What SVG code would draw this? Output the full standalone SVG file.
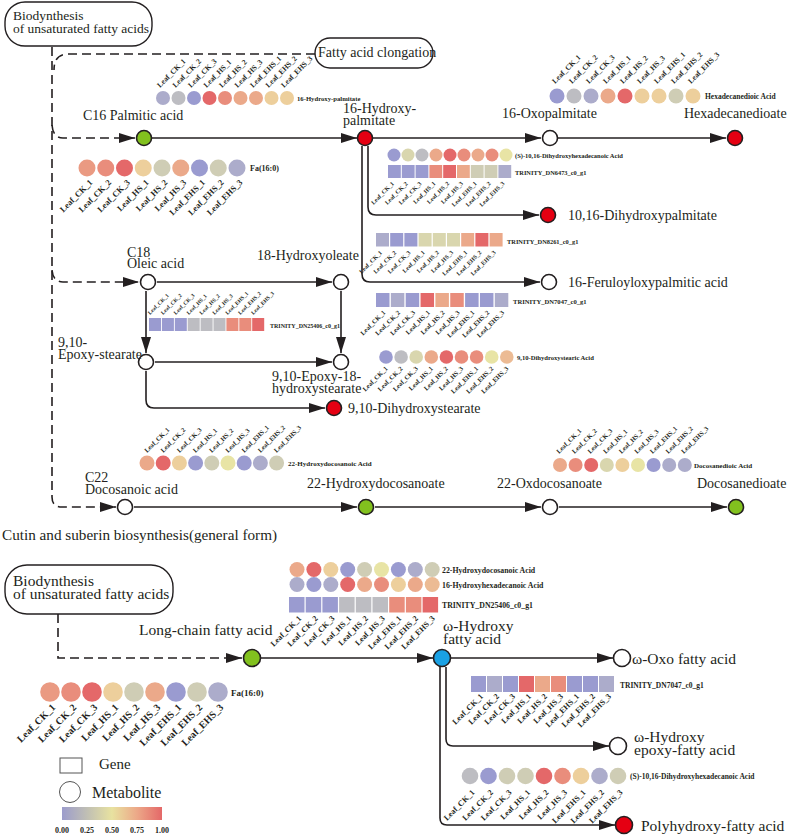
<svg xmlns="http://www.w3.org/2000/svg" width="788" height="837" viewBox="0 0 788 837">
<defs>
<style>
.ln{fill:none;stroke:#231f20;stroke-width:1.6}
.ar{marker-end:url(#ah)}
.ds{fill:none;stroke:#231f20;stroke-width:1.6;stroke-dasharray:9 5}
.nd{stroke:#231f20;stroke-width:1.6}
.wh{fill:#fff}
.gr{fill:#82c11e}
.rd{fill:#e50012}
.bl{fill:#1aa1e4}
.t{font-family:"Liberation Serif","Times New Roman",serif;font-size:14px;fill:#231f20}
.tb{font-size:15.5px}
.sl{font-family:"Liberation Serif","Times New Roman",serif;font-weight:bold;fill:#231f20}
.en{text-anchor:end}
.box{fill:#fff;stroke:#231f20;stroke-width:1.4}
.b1{fill:#9a9bd0}.b2{fill:#acaccb}.g{fill:#bdbdc2}.gy{fill:#cfcdb5}.yg{fill:#d9d6ae}
.y{fill:#e8e4a5}.yo{fill:#edcf9c}.oy{fill:#ecbb94}.o{fill:#eba98a}.so{fill:#ea9a82}.s{fill:#e98d7c}.r{fill:#e46869}
</style>
<marker id="ah" markerUnits="userSpaceOnUse" markerWidth="16" markerHeight="10" refX="16" refY="5" orient="auto" viewBox="0 0 16 10"><path d="M0,0 L16,5 L0,10 z" fill="#231f20"/></marker>
<linearGradient id="lg" x1="0" y1="0" x2="1" y2="0">
<stop offset="0" stop-color="#9c9ccc"/><stop offset="0.25" stop-color="#c0bfb4"/><stop offset="0.5" stop-color="#e8e2a0"/><stop offset="0.75" stop-color="#eca888"/><stop offset="1" stop-color="#e46868"/>
</linearGradient>
</defs>
<rect width="788" height="837" fill="#fff"/>

<g id="connectors">
<path class="ds" d="M52,47 V497 Q52,507 62,507 H116" marker-end="url(#ah)"/>
<path class="ds" d="M52,125 Q53,138 63,138 H135" marker-end="url(#ah)"/>
<path class="ds" d="M52,270 Q53,282 63,282 H139" marker-end="url(#ah)"/>
<path class="ds" d="M315,54 H68 Q54,54 54,70"/>
<path class="ln ar" d="M152,138 H357"/>
<path class="ln ar" d="M373,138 H541"/>
<path class="ln ar" d="M558,138 H726"/>
<path class="ln ar" d="M368,146 V207 Q368,215 376,215 H539"/>
<path class="ln ar" d="M362,146 V274 Q362,282 370,282 H540"/>
<path class="ln ar" d="M157,282 H332"/>
<path class="ln ar" d="M146,291 V353"/>
<path class="ln ar" d="M341,291 V353"/>
<path class="ln ar" d="M155,362 H332"/>
<path class="ln ar" d="M146,371 V400 Q146,408 154,408 H325"/>
<path class="ln ar" d="M134,507 H357"/>
<path class="ln ar" d="M375,507 H541"/>
<path class="ln ar" d="M559,507 H727"/>
<path class="ds" d="M58,614 V658 H242" marker-end="url(#ah)"/>
<path class="ln ar" d="M261,658 H433"/>
<path class="ln ar" d="M451,658 H613"/>
<path class="ln ar" d="M446,667 V739 Q446,746 453,746 H609"/>
<path class="ln ar" d="M440,667 V818 Q440,825 447,825 H615"/>
</g>

<g id="box-unsat-top"><rect class="box" x="5" y="2" width="147" height="44" rx="20"/>
<text class="t" x="13" y="20" style="font-size:13.5px">Biodynthesis</text><text class="t" x="13" y="32.5" style="font-size:13.5px">of unsaturated fatty acids</text></g>
<g id="box-elong"><rect class="box" x="315" y="38" width="118" height="30" rx="15"/>
<text class="t" x="318" y="57">Fatty acid clongation</text></g>

<g id="n-c16"><circle class="nd gr" cx="144" cy="138" r="7.5"/><text class="t" x="83" y="120">C16 Palmitic acid</text></g>
<g id="n-16hp"><circle class="nd rd" cx="365" cy="138" r="7.5"/><text class="t" x="343" y="113">16-Hydroxy-</text><text class="t" x="343" y="125">palmitate</text></g>
<g id="n-16oxo"><circle class="nd wh" cx="550" cy="138" r="7.5"/><text class="t" x="502" y="118">16-Oxopalmitate</text></g>
<g id="n-hexd"><circle class="nd rd" cx="735" cy="138" r="7.5"/><text class="t" x="684" y="118">Hexadecanedioate</text></g>
<g id="n-1016"><circle class="nd rd" cx="548" cy="215" r="7.5"/><text class="t" x="568" y="220">10,16-Dihydroxypalmitate</text></g>
<g id="n-16fer"><circle class="nd wh" cx="549" cy="282" r="7.5"/><text class="t" x="568" y="287">16-Feruloyloxypalmitic acid</text></g>
<g id="n-c18"><circle class="nd wh" cx="148" cy="282" r="7.5"/><text class="t" x="127" y="256.5">C18</text><text class="t" x="127" y="268">Oleic acid</text></g>
<g id="n-18ho"><circle class="nd wh" cx="341" cy="282" r="7.5"/><text class="t" x="257" y="260">18-Hydroxyoleate</text></g>
<g id="n-epox"><circle class="nd wh" cx="146" cy="362" r="7.5"/><text class="t" x="58" y="347">9,10-</text><text class="t" x="58" y="359">Epoxy-stearate</text></g>
<g id="n-epox18"><circle class="nd wh" cx="341" cy="362" r="7.5"/><text class="t" x="272" y="381">9,10-Epoxy-18-</text><text class="t" x="272" y="393">hydroxystearate</text></g>
<g id="n-910dh"><circle class="nd rd" cx="334" cy="408" r="7.5"/><text class="t" x="348" y="413">9,10-Dihydroxystearate</text></g>
<g id="n-c22"><circle class="nd wh" cx="125" cy="507" r="7.5"/><text class="t" x="85" y="482">C22</text><text class="t" x="85" y="494">Docosanoic acid</text></g>
<g id="n-22hd"><circle class="nd gr" cx="366" cy="507" r="7.5"/><text class="t" x="307" y="488">22-Hydroxydocosanoate</text></g>
<g id="n-22oxo"><circle class="nd wh" cx="550" cy="507" r="7.5"/><text class="t" x="497" y="488">22-Oxdocosanoate</text></g>
<g id="n-docd"><circle class="nd gr" cx="736" cy="507" r="7.5"/><text class="t" x="697" y="488">Docosanedioate</text></g>

<text class="t" x="2" y="540" style="font-size:15.2px">Cutin and suberin biosynthesis(general form)</text>

<g id="box-unsat-bottom"><rect class="box" x="5" y="565" width="168" height="49" rx="22"/>
<text class="t tb" x="13" y="585.5">Biodynthesis</text><text class="t tb" x="13" y="599">of unsaturated fatty acids</text></g>
<g id="n-lcfa"><circle class="nd gr" cx="252" cy="658" r="8.5"/><text class="t tb" x="139" y="635">Long-chain fatty acid</text></g>
<g id="n-ohfa"><circle class="nd bl" cx="442" cy="658" r="8.5"/><text class="t tb" x="443" y="630.5">ω-Hydroxy</text><text class="t tb" x="443" y="643.5">fatty acid</text></g>
<g id="n-oxofa"><circle class="nd wh" cx="622" cy="658" r="8.5"/><text class="t tb" x="632" y="664">ω-Oxo fatty acid</text></g>
<g id="n-ohepfa"><circle class="nd wh" cx="618" cy="746" r="8.5"/><text class="t tb" x="634" y="741.5">ω-Hydroxy</text><text class="t tb" x="634" y="755">epoxy-fatty acid</text></g>
<g id="n-polyfa"><circle class="nd rd" cx="624" cy="825" r="8.5"/><text class="t tb" x="641" y="831">Polyhydroxy-fatty acid</text></g>

<g id="hm-16-hydroxy-palmitate">
<circle class="b2" cx="163" cy="98" r="7"/><circle class="g" cx="178.5" cy="98" r="7"/><circle class="b1" cx="194" cy="98" r="7"/><circle class="r" cx="209.5" cy="98" r="7"/><circle class="s" cx="225" cy="98" r="7"/><circle class="o" cx="240.5" cy="98" r="7"/><circle class="o" cx="256" cy="98" r="7"/><circle class="yo" cx="271.5" cy="98" r="7"/><circle class="yo" cx="287" cy="98" r="7"/>
<text class="sl" x="297" y="101" font-size="6.7">16-Hydroxy-palmitate</text>
<g class="sl" font-size="7.5">
<text transform="translate(160,88) rotate(-45)">Leaf_CK_1</text><text transform="translate(175.5,88) rotate(-45)">Leaf_CK_2</text><text transform="translate(191,88) rotate(-45)">Leaf_CK_3</text><text transform="translate(206.5,88) rotate(-45)">Leaf_HS_1</text><text transform="translate(222,88) rotate(-45)">Leaf_HS_2</text><text transform="translate(237.5,88) rotate(-45)">Leaf_HS_3</text><text transform="translate(253,88) rotate(-45)">Leaf_EHS_1</text><text transform="translate(268.5,88) rotate(-45)">Leaf_EHS_2</text><text transform="translate(284,88) rotate(-45)">Leaf_EHS_3</text>
</g></g>

<g id="hm-hexadecanedioic">
<circle class="b1" cx="557" cy="96" r="7.5"/><circle class="g" cx="574" cy="96" r="7.5"/><circle class="b2" cx="591" cy="96" r="7.5"/><circle class="o" cx="608" cy="96" r="7.5"/><circle class="r" cx="625" cy="96" r="7.5"/><circle class="yo" cx="642" cy="96" r="7.5"/><circle class="yo" cx="659" cy="96" r="7.5"/><circle class="gy" cx="676" cy="96" r="7.5"/><circle class="yo" cx="693" cy="96" r="7.5"/>
<text class="sl" x="705" y="99" font-size="7.5">Hexadecanedioic Acid</text>
<g class="sl" font-size="7.5">
<text transform="translate(555,84) rotate(-45)">Leaf_CK_1</text><text transform="translate(572,84) rotate(-45)">Leaf_CK_2</text><text transform="translate(589,84) rotate(-45)">Leaf_CK_3</text><text transform="translate(606,84) rotate(-45)">Leaf_HS_1</text><text transform="translate(623,84) rotate(-45)">Leaf_HS_2</text><text transform="translate(640,84) rotate(-45)">Leaf_HS_3</text><text transform="translate(657,84) rotate(-45)">Leaf_EHS_1</text><text transform="translate(674,84) rotate(-45)">Leaf_EHS_2</text><text transform="translate(691,84) rotate(-45)">Leaf_EHS_3</text>
</g></g>

<g id="hm-fa160-top">
<circle class="so" cx="87" cy="168" r="8.5"/><circle class="s" cx="105.75" cy="168" r="8.5"/><circle class="r" cx="124.5" cy="168" r="8.5"/><circle class="yo" cx="143.25" cy="168" r="8.5"/><circle class="gy" cx="162" cy="168" r="8.5"/><circle class="o" cx="180.75" cy="168" r="8.5"/><circle class="b1" cx="199.5" cy="168" r="8.5"/><circle class="gy" cx="218.25" cy="168" r="8.5"/><circle class="b2" cx="237" cy="168" r="8.5"/>
<text class="sl" x="250" y="171" font-size="8">Fa(16:0)</text>
<g class="sl en" font-size="8.5">
<text transform="translate(93,183) rotate(-45)">Leaf_CK_1</text><text transform="translate(111.75,183) rotate(-45)">Leaf_CK_2</text><text transform="translate(130.5,183) rotate(-45)">Leaf_CK_3</text><text transform="translate(149.25,183) rotate(-45)">Leaf_HS_1</text><text transform="translate(168,183) rotate(-45)">Leaf_HS_2</text><text transform="translate(186.75,183) rotate(-45)">Leaf_HS_3</text><text transform="translate(205.5,183) rotate(-45)">Leaf_EHS_1</text><text transform="translate(224.25,183) rotate(-45)">Leaf_EHS_2</text><text transform="translate(243,183) rotate(-45)">Leaf_EHS_3</text>
</g></g>

<g id="hm-s1016-top">
<circle class="b1" cx="394" cy="155" r="6.5"/><circle class="yg" cx="408" cy="155" r="6.5"/><circle class="g" cx="422" cy="155" r="6.5"/><circle class="o" cx="436" cy="155" r="6.5"/><circle class="r" cx="450" cy="155" r="6.5"/><circle class="s" cx="464" cy="155" r="6.5"/><circle class="o" cx="478" cy="155" r="6.5"/><circle class="s" cx="492" cy="155" r="6.5"/><circle class="y" cx="506" cy="155" r="6.5"/>
<text class="sl" x="515" y="157.5" font-size="6.5">(S)-10,16-Dihydroxyhexadecanoic Acid</text>
</g>

<g id="hm-dn6473">
<rect class="b1" x="388" y="165" width="12.8" height="13"/><rect class="b1" x="401.8" y="165" width="12.8" height="13"/><rect class="b1" x="415.6" y="165" width="12.8" height="13"/><rect class="s" x="429.4" y="165" width="12.8" height="13"/><rect class="r" x="443.2" y="165" width="12.8" height="13"/><rect class="o" x="457" y="165" width="12.8" height="13"/><rect class="gy" x="470.8" y="165" width="12.8" height="13"/><rect class="gy" x="484.6" y="165" width="12.8" height="13"/><rect class="b2" x="498.4" y="165" width="12.8" height="13"/>
<text class="sl" x="515" y="174.5" font-size="6.4">TRINITY_DN6473_c0_g1</text>
<g class="sl en" font-size="6">
<text transform="translate(394.4,184) rotate(-45)">Leaf_CK_1</text><text transform="translate(408.2,184) rotate(-45)">Leaf_CK_2</text><text transform="translate(422,184) rotate(-45)">Leaf_CK_3</text><text transform="translate(435.8,184) rotate(-45)">Leaf_HS_1</text><text transform="translate(449.6,184) rotate(-45)">Leaf_HS_2</text><text transform="translate(463.4,184) rotate(-45)">Leaf_HS_3</text><text transform="translate(477.2,184) rotate(-45)">Leaf_EHS_1</text><text transform="translate(491,184) rotate(-45)">Leaf_EHS_2</text><text transform="translate(504.8,184) rotate(-45)">Leaf_EHS_3</text>
</g></g>

<g id="hm-dn8261">
<rect class="b2" x="376" y="233" width="13" height="13.5"/><rect class="b1" x="390.2" y="233" width="13" height="13.5"/><rect class="b1" x="404.4" y="233" width="13" height="13.5"/><rect class="yg" x="418.6" y="233" width="13" height="13.5"/><rect class="yg" x="432.8" y="233" width="13" height="13.5"/><rect class="yg" x="447" y="233" width="13" height="13.5"/><rect class="o" x="461.2" y="233" width="13" height="13.5"/><rect class="r" x="475.4" y="233" width="13" height="13.5"/><rect class="o" x="489.6" y="233" width="13" height="13.5"/>
<text class="sl" x="507" y="243.5" font-size="6.4">TRINITY_DN8261_c0_g1</text>
<g class="sl en" font-size="6">
<text transform="translate(382.5,253) rotate(-45)">Leaf_CK_1</text><text transform="translate(396.7,253) rotate(-45)">Leaf_CK_2</text><text transform="translate(410.9,253) rotate(-45)">Leaf_CK_3</text><text transform="translate(425.1,253) rotate(-45)">Leaf_HS_1</text><text transform="translate(439.3,253) rotate(-45)">Leaf_HS_2</text><text transform="translate(453.5,253) rotate(-45)">Leaf_HS_3</text><text transform="translate(467.7,253) rotate(-45)">Leaf_EHS_1</text><text transform="translate(481.9,253) rotate(-45)">Leaf_EHS_2</text><text transform="translate(496.1,253) rotate(-45)">Leaf_EHS_3</text>
</g></g>

<g id="hm-dn7047-top">
<rect class="b1" x="376" y="293" width="13.5" height="14"/><rect class="b2" x="390.85" y="293" width="13.5" height="14"/><rect class="b1" x="405.7" y="293" width="13.5" height="14"/><rect class="r" x="420.55" y="293" width="13.5" height="14"/><rect class="o" x="435.4" y="293" width="13.5" height="14"/><rect class="s" x="450.25" y="293" width="13.5" height="14"/><rect class="b1" x="465.1" y="293" width="13.5" height="14"/><rect class="b1" x="479.95" y="293" width="13.5" height="14"/><rect class="b2" x="494.8" y="293" width="13.5" height="14"/>
<text class="sl" x="513" y="303.5" font-size="6.6">TRINITY_DN7047_c0_g1</text>
<g class="sl en" font-size="6.5">
<text transform="translate(385.75,313) rotate(-45)">Leaf_CK_1</text><text transform="translate(400.6,313) rotate(-45)">Leaf_CK_2</text><text transform="translate(415.45,313) rotate(-45)">Leaf_CK_3</text><text transform="translate(430.3,313) rotate(-45)">Leaf_HS_1</text><text transform="translate(445.15,313) rotate(-45)">Leaf_HS_2</text><text transform="translate(460,313) rotate(-45)">Leaf_HS_3</text><text transform="translate(474.85,313) rotate(-45)">Leaf_EHS_1</text><text transform="translate(489.7,313) rotate(-45)">Leaf_EHS_2</text><text transform="translate(504.55,313) rotate(-45)">Leaf_EHS_3</text>
</g></g>

<g id="hm-dn25406-top">
<rect class="b1" x="149" y="318" width="12" height="13"/><rect class="b1" x="161.9" y="318" width="12" height="13"/><rect class="b1" x="174.8" y="318" width="12" height="13"/><rect class="g" x="187.7" y="318" width="12" height="13"/><rect class="g" x="200.6" y="318" width="12" height="13"/><rect class="g" x="213.5" y="318" width="12" height="13"/><rect class="s" x="226.4" y="318" width="12" height="13"/><rect class="s" x="239.3" y="318" width="12" height="13"/><rect class="r" x="252.2" y="318" width="12" height="13"/>
<text class="sl" x="270" y="328" font-size="6">TRINITY_DN25406_c0_g1</text>
<g class="sl" font-size="5.5">
<text transform="translate(150,315) rotate(-45)">Leaf_CK_1</text><text transform="translate(162.9,315) rotate(-45)">Leaf_CK_2</text><text transform="translate(175.8,315) rotate(-45)">Leaf_CK_3</text><text transform="translate(188.7,315) rotate(-45)">Leaf_HS_1</text><text transform="translate(201.6,315) rotate(-45)">Leaf_HS_2</text><text transform="translate(214.5,315) rotate(-45)">Leaf_HS_3</text><text transform="translate(227.4,315) rotate(-45)">Leaf_EHS_1</text><text transform="translate(240.3,315) rotate(-45)">Leaf_EHS_2</text><text transform="translate(253.2,315) rotate(-45)">Leaf_EHS_3</text>
</g></g>

<g id="hm-910dhsa">
<circle class="b1" cx="386" cy="357" r="6.8"/><circle class="g" cx="401.1" cy="357" r="6.8"/><circle class="yg" cx="416.2" cy="357" r="6.8"/><circle class="o" cx="431.3" cy="357" r="6.8"/><circle class="r" cx="446.4" cy="357" r="6.8"/><circle class="s" cx="461.5" cy="357" r="6.8"/><circle class="s" cx="476.6" cy="357" r="6.8"/><circle class="y" cx="491.7" cy="357" r="6.8"/><circle class="oy" cx="506.8" cy="357" r="6.8"/>
<text class="sl" x="517" y="359.5" font-size="6.6">9,10-Dihydroxystearic Acid</text>
<g class="sl en" font-size="6.5">
<text transform="translate(388,369) rotate(-45)">Leaf_CK_1</text><text transform="translate(403.1,369) rotate(-45)">Leaf_CK_2</text><text transform="translate(418.2,369) rotate(-45)">Leaf_CK_3</text><text transform="translate(433.3,369) rotate(-45)">Leaf_HS_1</text><text transform="translate(448.4,369) rotate(-45)">Leaf_HS_2</text><text transform="translate(463.5,369) rotate(-45)">Leaf_HS_3</text><text transform="translate(478.6,369) rotate(-45)">Leaf_EHS_1</text><text transform="translate(493.7,369) rotate(-45)">Leaf_EHS_2</text><text transform="translate(508.8,369) rotate(-45)">Leaf_EHS_3</text>
</g></g>

<g id="hm-22hda-top">
<circle class="o" cx="147" cy="463" r="7.5"/><circle class="r" cx="163.2" cy="463" r="7.5"/><circle class="yo" cx="179.4" cy="463" r="7.5"/><circle class="b1" cx="195.6" cy="463" r="7.5"/><circle class="gy" cx="211.8" cy="463" r="7.5"/><circle class="y" cx="228" cy="463" r="7.5"/><circle class="b1" cx="244.2" cy="463" r="7.5"/><circle class="b2" cx="260.4" cy="463" r="7.5"/><circle class="gy" cx="276.6" cy="463" r="7.5"/>
<text class="sl" x="288" y="466" font-size="7">22-Hydroxydocosanoic Acid</text>
<g class="sl" font-size="6.5">
<text transform="translate(147,453) rotate(-45)">Leaf_CK_1</text><text transform="translate(163.2,453) rotate(-45)">Leaf_CK_2</text><text transform="translate(179.4,453) rotate(-45)">Leaf_CK_3</text><text transform="translate(195.6,453) rotate(-45)">Leaf_HS_1</text><text transform="translate(211.8,453) rotate(-45)">Leaf_HS_2</text><text transform="translate(228,453) rotate(-45)">Leaf_HS_3</text><text transform="translate(244.2,453) rotate(-45)">Leaf_EHS_1</text><text transform="translate(260.4,453) rotate(-45)">Leaf_EHS_2</text><text transform="translate(276.6,453) rotate(-45)">Leaf_EHS_3</text>
</g></g>

<g id="hm-docosanedioic">
<circle class="o" cx="560" cy="465" r="7"/><circle class="s" cx="575.6" cy="465" r="7"/><circle class="r" cx="591.2" cy="465" r="7"/><circle class="yg" cx="606.8" cy="465" r="7"/><circle class="yo" cx="622.4" cy="465" r="7"/><circle class="y" cx="638" cy="465" r="7"/><circle class="b1" cx="653.6" cy="465" r="7"/><circle class="b2" cx="669.2" cy="465" r="7"/><circle class="b2" cx="684.8" cy="465" r="7"/>
<text class="sl" x="694" y="468" font-size="7">Docosanedioic Acid</text>
<g class="sl" font-size="6.5">
<text transform="translate(559,454) rotate(-45)">Leaf_CK_1</text><text transform="translate(574.6,454) rotate(-45)">Leaf_CK_2</text><text transform="translate(590.2,454) rotate(-45)">Leaf_CK_3</text><text transform="translate(605.8,454) rotate(-45)">Leaf_HS_1</text><text transform="translate(621.4,454) rotate(-45)">Leaf_HS_2</text><text transform="translate(637,454) rotate(-45)">Leaf_HS_3</text><text transform="translate(652.6,454) rotate(-45)">Leaf_EHS_1</text><text transform="translate(668.2,454) rotate(-45)">Leaf_EHS_2</text><text transform="translate(683.8,454) rotate(-45)">Leaf_EHS_3</text>
</g></g>

<g id="hm-22hda-bottom">
<circle class="o" cx="297" cy="569.5" r="7.5"/><circle class="r" cx="313.9" cy="569.5" r="7.5"/><circle class="yo" cx="330.8" cy="569.5" r="7.5"/><circle class="b1" cx="347.7" cy="569.5" r="7.5"/><circle class="gy" cx="364.6" cy="569.5" r="7.5"/><circle class="y" cx="381.5" cy="569.5" r="7.5"/><circle class="b1" cx="398.4" cy="569.5" r="7.5"/><circle class="b2" cx="415.3" cy="569.5" r="7.5"/><circle class="gy" cx="432.2" cy="569.5" r="7.5"/>
<text class="sl" x="442" y="572.5" font-size="7.8">22-Hydroxydocosanoic Acid</text>
</g>

<g id="hm-16hha">
<circle class="b2" cx="297" cy="584.5" r="7.5"/><circle class="b1" cx="313.9" cy="584.5" r="7.5"/><circle class="b2" cx="330.8" cy="584.5" r="7.5"/><circle class="r" cx="347.7" cy="584.5" r="7.5"/><circle class="o" cx="364.6" cy="584.5" r="7.5"/><circle class="s" cx="381.5" cy="584.5" r="7.5"/><circle class="yo" cx="398.4" cy="584.5" r="7.5"/><circle class="o" cx="415.3" cy="584.5" r="7.5"/><circle class="oy" cx="432.2" cy="584.5" r="7.5"/>
<text class="sl" x="442" y="587.5" font-size="7.8">16-Hydroxyhexadecanoic Acid</text>
</g>

<g id="hm-dn25406-bottom">
<rect class="b1" x="289" y="597" width="15.5" height="15.5"/><rect class="b1" x="305.7" y="597" width="15.5" height="15.5"/><rect class="b1" x="322.4" y="597" width="15.5" height="15.5"/><rect class="g" x="339.1" y="597" width="15.5" height="15.5"/><rect class="g" x="355.8" y="597" width="15.5" height="15.5"/><rect class="g" x="372.5" y="597" width="15.5" height="15.5"/><rect class="s" x="389.2" y="597" width="15.5" height="15.5"/><rect class="s" x="405.9" y="597" width="15.5" height="15.5"/><rect class="r" x="422.6" y="597" width="15.5" height="15.5"/>
<text class="sl" x="442" y="608" font-size="7.8">TRINITY_DN25406_c0_g1</text>
<g class="sl en" font-size="8">
<text transform="translate(301.75,619) rotate(-45)">Leaf_CK_1</text><text transform="translate(318.45,619) rotate(-45)">Leaf_CK_2</text><text transform="translate(335.15,619) rotate(-45)">Leaf_CK_3</text><text transform="translate(351.85,619) rotate(-45)">Leaf_HS_1</text><text transform="translate(368.55,619) rotate(-45)">Leaf_HS_2</text><text transform="translate(385.25,619) rotate(-45)">Leaf_HS_3</text><text transform="translate(401.95,619) rotate(-45)">Leaf_EHS_1</text><text transform="translate(418.65,619) rotate(-45)">Leaf_EHS_2</text><text transform="translate(435.35,619) rotate(-45)">Leaf_EHS_3</text>
</g></g>

<g id="hm-dn7047-bottom">
<rect class="b1" x="471" y="676" width="15" height="16"/><rect class="b2" x="487" y="676" width="15" height="16"/><rect class="b1" x="503" y="676" width="15" height="16"/><rect class="r" x="519" y="676" width="15" height="16"/><rect class="o" x="535" y="676" width="15" height="16"/><rect class="s" x="551" y="676" width="15" height="16"/><rect class="b1" x="567" y="676" width="15" height="16"/><rect class="b1" x="583" y="676" width="15" height="16"/><rect class="b2" x="599" y="676" width="15" height="16"/>
<text class="sl" x="620" y="687.5" font-size="7.5">TRINITY_DN7047_c0_g1</text>
<g class="sl en" font-size="8">
<text transform="translate(483.5,697) rotate(-45)">Leaf_CK_1</text><text transform="translate(499.5,697) rotate(-45)">Leaf_CK_2</text><text transform="translate(515.5,697) rotate(-45)">Leaf_CK_3</text><text transform="translate(531.5,697) rotate(-45)">Leaf_HS_1</text><text transform="translate(547.5,697) rotate(-45)">Leaf_HS_2</text><text transform="translate(563.5,697) rotate(-45)">Leaf_HS_3</text><text transform="translate(579.5,697) rotate(-45)">Leaf_EHS_1</text><text transform="translate(595.5,697) rotate(-45)">Leaf_EHS_2</text><text transform="translate(611.5,697) rotate(-45)">Leaf_EHS_3</text>
</g></g>

<g id="hm-s1016-bottom">
<circle class="g" cx="470" cy="776" r="8.3"/><circle class="b1" cx="488.5" cy="776" r="8.3"/><circle class="gy" cx="507" cy="776" r="8.3"/><circle class="gy" cx="525.5" cy="776" r="8.3"/><circle class="r" cx="544" cy="776" r="8.3"/><circle class="s" cx="562.5" cy="776" r="8.3"/><circle class="yo" cx="581" cy="776" r="8.3"/><circle class="b2" cx="599.5" cy="776" r="8.3"/><circle class="gy" cx="618" cy="776" r="8.3"/>
<text class="sl" x="630" y="779" font-size="7.5">(S)-10,16-Dihydroxyhexadecanoic Acid</text>
<g class="sl en" font-size="8">
<text transform="translate(475,793) rotate(-45)">Leaf_CK_1</text><text transform="translate(493.5,793) rotate(-45)">Leaf_CK_2</text><text transform="translate(512,793) rotate(-45)">Leaf_CK_3</text><text transform="translate(530.5,793) rotate(-45)">Leaf_HS_1</text><text transform="translate(549,793) rotate(-45)">Leaf_HS_2</text><text transform="translate(567.5,793) rotate(-45)">Leaf_HS_3</text><text transform="translate(586,793) rotate(-45)">Leaf_EHS_1</text><text transform="translate(604.5,793) rotate(-45)">Leaf_EHS_2</text><text transform="translate(623,793) rotate(-45)">Leaf_EHS_3</text>
</g></g>

<g id="hm-fa160-bottom">
<circle class="so" cx="50" cy="692" r="9.8"/><circle class="s" cx="71" cy="692" r="9.8"/><circle class="r" cx="92" cy="692" r="9.8"/><circle class="yo" cx="113" cy="692" r="9.8"/><circle class="gy" cx="134" cy="692" r="9.8"/><circle class="o" cx="155" cy="692" r="9.8"/><circle class="b1" cx="176" cy="692" r="9.8"/><circle class="gy" cx="197" cy="692" r="9.8"/><circle class="b2" cx="218" cy="692" r="9.8"/>
<text class="sl" x="231" y="696" font-size="9">Fa(16:0)</text>
<g class="sl en" font-size="10">
<text transform="translate(56,708) rotate(-45)">Leaf_CK_1</text><text transform="translate(77,708) rotate(-45)">Leaf_CK_2</text><text transform="translate(98,708) rotate(-45)">Leaf_CK_3</text><text transform="translate(119,708) rotate(-45)">Leaf_HS_1</text><text transform="translate(140,708) rotate(-45)">Leaf_HS_2</text><text transform="translate(161,708) rotate(-45)">Leaf_HS_3</text><text transform="translate(182,708) rotate(-45)">Leaf_EHS_1</text><text transform="translate(203,708) rotate(-45)">Leaf_EHS_2</text><text transform="translate(224,708) rotate(-45)">Leaf_EHS_3</text>
</g></g>

<g id="legend">
<rect x="60" y="758" width="22" height="15" fill="none" stroke="#555" stroke-width="1"/>
<text class="t" x="99" y="769" style="font-size:15px">Gene</text>
<circle cx="70" cy="792" r="10.5" fill="none" stroke="#555" stroke-width="1"/>
<text class="t" x="92" y="798" style="font-size:16px">Metabolite</text>
<rect x="62" y="807" width="100" height="13" fill="url(#lg)"/>
<g font-family="Liberation Serif, Times New Roman, serif" font-weight="bold" font-size="8" text-anchor="middle" fill="#231f20">
<text x="62" y="833">0.00</text><text x="87" y="833">0.25</text><text x="112" y="833">0.50</text><text x="137" y="833">0.75</text><text x="162" y="833">1.00</text>
</g></g>
</svg>
